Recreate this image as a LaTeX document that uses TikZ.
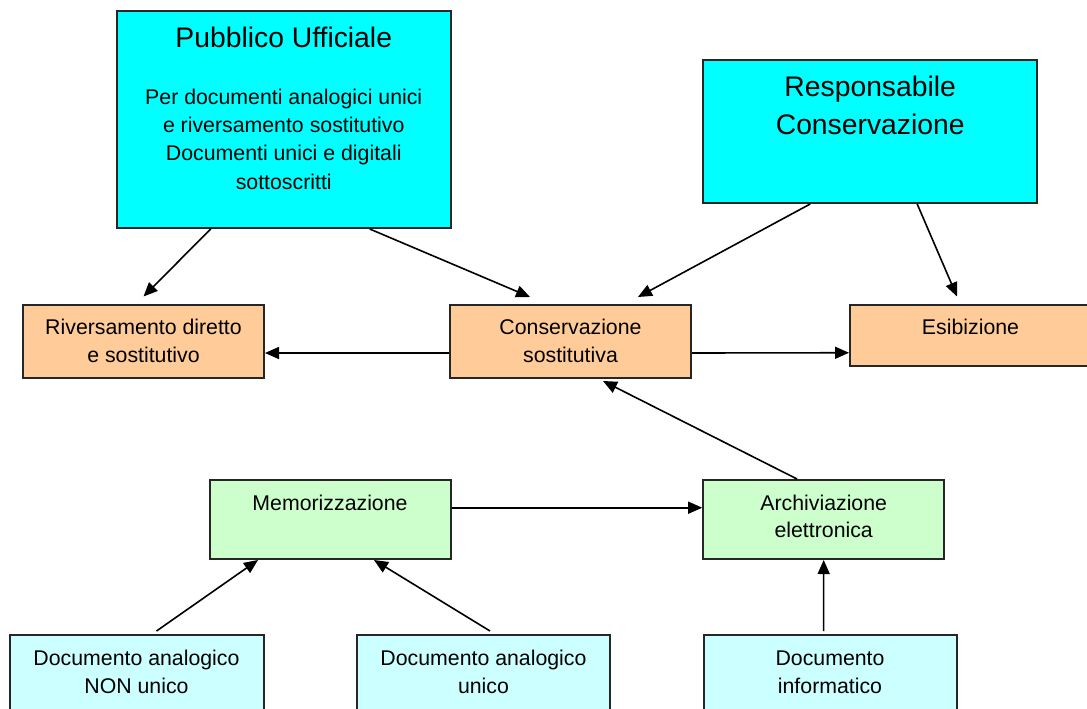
\documentclass[tikz,border=0pt]{standalone}
\usepackage{fontspec}
\setmainfont{Liberation Sans}
\usetikzlibrary{arrows.meta,positioning}

\definecolor{boxcyan}{HTML}{00FFFF}
\definecolor{boxorange}{HTML}{FFCC99}
\definecolor{boxgreen}{HTML}{CCFFCC}
\definecolor{boxpale}{HTML}{CCFFFF}

\tikzset{
  box/.style={draw=black!85, line width=2pt, minimum width=241pt, inner sep=0pt},
  txt/.style={align=center, inner sep=0pt, font=\fontsize{21.3}{27.8}\selectfont},
  bigtxt/.style={txt, font=\fontsize{28.3}{38}\selectfont},
  arr/.style={-{Triangle[length=14pt,width=12pt]}, line width=1.6pt},
}

\begin{document}
\begin{tikzpicture}[x=1pt,y=-1pt]
  \useasboundingbox (0,0) rectangle (1087,709);

  % Roles
  \node[box, fill=boxcyan, minimum width=334.5pt, minimum height=217pt] (pu) at (283.75,119.5) {};
  \node[box, fill=boxcyan, minimum width=333.6pt, minimum height=143pt] (rc) at (870.2,131.5) {};

  % Processes
  \node[box, fill=boxorange, minimum height=73pt] (riv) at (143.5,341) {};
  \node[box, fill=boxorange, minimum height=73pt] (cons) at (570.5,341) {};
  \node[box, fill=boxorange, minimum height=61.5pt] (esi) at (970.5,335.25) {};

  % Storage
  \node[box, fill=boxgreen, minimum height=79pt] (memo) at (330,519.5) {};
  \node[box, fill=boxgreen, minimum height=79pt] (arch) at (823.7,519.5) {};

  % Documents
  \node[box, fill=boxpale, minimum width=254pt, minimum height=80pt] (non) at (136.5,675) {};
  \node[box, fill=boxpale, minimum width=253pt, minimum height=80pt] (uni) at (483.5,675) {};
  \node[box, fill=boxpale, minimum width=253pt, minimum height=80pt] (inf) at (830,675) {};

  % Texts (base = last line)
  \node[bigtxt, below=38pt of pu.north, anchor=base] (puT) {Pubblico Ufficiale};
  \node[txt, font=\fontsize{21.3}{28.2}\selectfont, below=179pt of pu.north, anchor=base] (puB) {Per documenti analogici unici\\e riversamento sostitutivo\\Documenti unici e digitali\\sottoscritti};
  \node[bigtxt, below=75pt of rc.north, anchor=base] (rcT) {Responsabile\\Conservazione};
  \node[txt, below=58.5pt of riv.north, anchor=base] (rivT) {Riversamento diretto\\e sostitutivo};
  \node[txt, below=58.5pt of cons.north, anchor=base] (consT) {Conservazione\\sostitutiva};
  \node[txt, below=30.5pt of esi.north, anchor=base] (esiT) {Esibizione};
  \node[txt, below=31pt of memo.north, anchor=base] (memoT) {Memorizzazione};
  \node[txt, below=58.8pt of arch.north, anchor=base] (archT) {Archiviazione\\elettronica};
  \node[txt, below=59.5pt of non.north, anchor=base] (nonT) {Documento analogico\\NON unico};
  \node[txt, below=59.5pt of uni.north, anchor=base] (uniT) {Documento analogico\\unico};
  \node[txt, below=59.5pt of inf.north, anchor=base] (infT) {Documento\\informatico};

  % Arrows
  \draw[arr] ([xshift=-73pt]pu.south) -- ([yshift=7pt]riv.north);
  \draw[arr] ([xshift=86pt]pu.south) -- ([xshift=-40.5pt,yshift=6.5pt]cons.north);
  \draw[arr] ([xshift=-60pt]rc.south) -- ([xshift=67.5pt,yshift=6.5pt]cons.north);
  \draw[arr] ([xshift=47pt]rc.south) -- ([xshift=-13.5pt,yshift=7pt]esi.north);
  \draw[arr] ([yshift=-12pt]cons.west) -- ([yshift=-12pt]riv.east);
  \draw[arr] ([yshift=-12pt]cons.east) -- ([yshift=-17.5pt]esi.west);
  \draw[arr] ([xshift=-26.7pt]arch.north) -- ([xshift=32.5pt,yshift=-2.5pt]cons.south);
  \draw[arr] ([yshift=11.8pt]memo.east) -- ([yshift=11.8pt]arch.west);
  \draw[arr] ([xshift=20pt,yshift=3pt]non.north) -- ([xshift=-72pt]memo.south);
  \draw[arr] ([xshift=6.5pt,yshift=3pt]uni.north) -- ([xshift=44pt]memo.south);
  \draw[arr] ([xshift=-6.4pt,yshift=3pt]inf.north) -- (arch.south);
\end{tikzpicture}
\end{document}
